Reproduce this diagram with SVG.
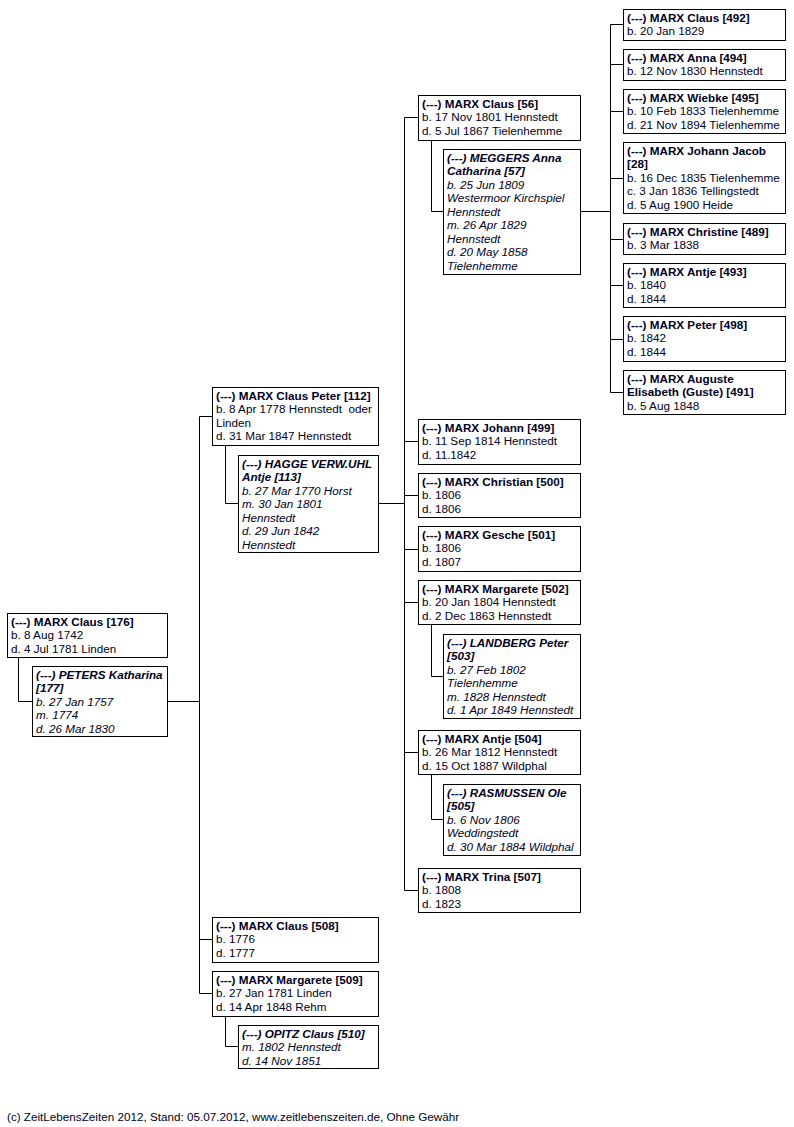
<svg xmlns="http://www.w3.org/2000/svg" width="794" height="1127" viewBox="0 0 794 1127">
<style>
rect.b{fill:#fff;stroke:#000;stroke-width:1}
text{font-family:"Liberation Sans",Arial,sans-serif;font-size:11.7px;fill:#000022}
.n{font-weight:bold}
.s{font-style:italic}
.sn{font-style:italic;font-weight:bold}
#connectors path{fill:none;stroke:#000;stroke-width:1}
</style>
<rect width="794" height="1127" fill="#fff"/>
<g id="connectors">
<path d="M18.5 657.5V701.5H32.5M167.5 701.5H199.5M199.5 416.5V993.5M199.5 416.5H212.5M199.5 939.5H212.5M199.5 993.5H212.5"/>
<path d="M225.5 445.5V503.5H238.5M378.5 503.5H404.5M404.5 117.5V890.5M225.5 1016.5V1046.5H238.5"/>
<path d="M404.5 117.5H418.5M404.5 441.5H418.5M404.5 495.5H418.5M404.5 549.5H418.5M404.5 602.5H418.5M404.5 752.5H418.5M404.5 890.5H418.5"/>
<path d="M431.5 140.5V211.5H443.5M580.5 211.5H610.5M431.5 624.5V676.5H443.5M431.5 774.5V819.5H443.5"/>
<path d="M610.5 24.5V392.5M610.5 24.5H623.5M610.5 64.5H623.5M610.5 111.5H623.5M610.5 178.5H623.5M610.5 239.5H623.5M610.5 285.5H623.5M610.5 339.5H623.5M610.5 392.5H623.5"/>
</g>
<g id="p176"><rect class="b" x="7.5" y="613.5" width="160" height="44"/>
<text x="11" y="626"><tspan class="n">(---) MARX Claus [176]</tspan><tspan x="11" dy="13.45">b. 8 Aug 1742</tspan><tspan x="11" dy="13.45">d. 4 Jul 1781 Linden</tspan></text></g>
<g id="p177"><rect class="b" x="32.5" y="666.5" width="135" height="70"/>
<text x="36" y="679" class="s"><tspan class="sn">(---) PETERS Katharina</tspan><tspan x="36" dy="13.45" class="sn">[177]</tspan><tspan x="36" dy="13.45">b. 27 Jan 1757</tspan><tspan x="36" dy="13.45">m. 1774</tspan><tspan x="36" dy="13.45">d. 26 Mar 1830</tspan></text></g>
<g id="p112"><rect class="b" x="212.5" y="387.5" width="166" height="58"/>
<text x="216" y="400"><tspan class="n">(---) MARX Claus Peter [112]</tspan><tspan x="216" dy="13.45">b. 8 Apr 1778 Hennstedt &#160;oder</tspan><tspan x="216" dy="13.45">Linden</tspan><tspan x="216" dy="13.45">d. 31 Mar 1847 Hennstedt</tspan></text></g>
<g id="p113"><rect class="b" x="238.5" y="455.5" width="140" height="97"/>
<text x="242" y="468" class="s"><tspan class="sn">(---) HAGGE VERW.UHL</tspan><tspan x="242" dy="13.45" class="sn">Antje [113]</tspan><tspan x="242" dy="13.45">b. 27 Mar 1770 Horst</tspan><tspan x="242" dy="13.45">m. 30 Jan 1801</tspan><tspan x="242" dy="13.45">Hennstedt</tspan><tspan x="242" dy="13.45">d. 29 Jun 1842</tspan><tspan x="242" dy="13.45">Hennstedt</tspan></text></g>
<g id="p508"><rect class="b" x="212.5" y="917.5" width="166" height="45"/>
<text x="216" y="930"><tspan class="n">(---) MARX Claus [508]</tspan><tspan x="216" dy="13.45">b. 1776</tspan><tspan x="216" dy="13.45">d. 1777</tspan></text></g>
<g id="p509"><rect class="b" x="212.5" y="971.5" width="166" height="45"/>
<text x="216" y="984"><tspan class="n">(---) MARX Margarete [509]</tspan><tspan x="216" dy="13.45">b. 27 Jan 1781 Linden</tspan><tspan x="216" dy="13.45">d. 14 Apr 1848 Rehm</tspan></text></g>
<g id="p510"><rect class="b" x="238.5" y="1025.5" width="140" height="43"/>
<text x="242" y="1038" class="s"><tspan class="sn">(---) OPITZ Claus [510]</tspan><tspan x="242" dy="13.45">m. 1802 Hennstedt</tspan><tspan x="242" dy="13.45">d. 14 Nov 1851</tspan></text></g>
<g id="p56"><rect class="b" x="418.5" y="95.5" width="162" height="45"/>
<text x="422" y="108"><tspan class="n">(---) MARX Claus [56]</tspan><tspan x="422" dy="13.45">b. 17 Nov 1801 Hennstedt</tspan><tspan x="422" dy="13.45">d. 5 Jul 1867 Tielenhemme</tspan></text></g>
<g id="p57"><rect class="b" x="443.5" y="149.5" width="137" height="125"/>
<text x="447" y="162" class="s"><tspan class="sn">(---) MEGGERS Anna</tspan><tspan x="447" dy="13.45" class="sn">Catharina [57]</tspan><tspan x="447" dy="13.45">b. 25 Jun 1809</tspan><tspan x="447" dy="13.45">Westermoor Kirchspiel</tspan><tspan x="447" dy="13.45">Hennstedt</tspan><tspan x="447" dy="13.45">m. 26 Apr 1829</tspan><tspan x="447" dy="13.45">Hennstedt</tspan><tspan x="447" dy="13.45">d. 20 May 1858</tspan><tspan x="447" dy="13.45">Tielenhemme</tspan></text></g>
<g id="p499"><rect class="b" x="418.5" y="419.5" width="162" height="45"/>
<text x="422" y="432"><tspan class="n">(---) MARX Johann [499]</tspan><tspan x="422" dy="13.45">b. 11 Sep 1814 Hennstedt</tspan><tspan x="422" dy="13.45">d. 11.1842</tspan></text></g>
<g id="p500"><rect class="b" x="418.5" y="473.5" width="162" height="44"/>
<text x="422" y="486"><tspan class="n">(---) MARX Christian [500]</tspan><tspan x="422" dy="13.45">b. 1806</tspan><tspan x="422" dy="13.45">d. 1806</tspan></text></g>
<g id="p501"><rect class="b" x="418.5" y="526.5" width="162" height="45"/>
<text x="422" y="539"><tspan class="n">(---) MARX Gesche [501]</tspan><tspan x="422" dy="13.45">b. 1806</tspan><tspan x="422" dy="13.45">d. 1807</tspan></text></g>
<g id="p502"><rect class="b" x="418.5" y="580.5" width="162" height="44"/>
<text x="422" y="593"><tspan class="n">(---) MARX Margarete [502]</tspan><tspan x="422" dy="13.45">b. 20 Jan 1804 Hennstedt</tspan><tspan x="422" dy="13.45">d. 2 Dec 1863 Hennstedt</tspan></text></g>
<g id="p503"><rect class="b" x="443.5" y="634.5" width="137" height="84"/>
<text x="447" y="647" class="s"><tspan class="sn">(---) LANDBERG Peter</tspan><tspan x="447" dy="13.45" class="sn">[503]</tspan><tspan x="447" dy="13.45">b. 27 Feb 1802</tspan><tspan x="447" dy="13.45">Tielenhemme</tspan><tspan x="447" dy="13.45">m. 1828 Hennstedt</tspan><tspan x="447" dy="13.45">d. 1 Apr 1849 Hennstedt</tspan></text></g>
<g id="p504"><rect class="b" x="418.5" y="730.5" width="162" height="44"/>
<text x="422" y="743"><tspan class="n">(---) MARX Antje [504]</tspan><tspan x="422" dy="13.45">b. 26 Mar 1812 Hennstedt</tspan><tspan x="422" dy="13.45">d. 15 Oct 1887 Wildphal</tspan></text></g>
<g id="p505"><rect class="b" x="443.5" y="784.5" width="137" height="71"/>
<text x="447" y="797" class="s"><tspan class="sn">(---) RASMUSSEN Ole</tspan><tspan x="447" dy="13.45" class="sn">[505]</tspan><tspan x="447" dy="13.45">b. 6 Nov 1806</tspan><tspan x="447" dy="13.45">Weddingstedt</tspan><tspan x="447" dy="13.45">d. 30 Mar 1884 Wildphal</tspan></text></g>
<g id="p507"><rect class="b" x="418.5" y="868.5" width="162" height="44"/>
<text x="422" y="881"><tspan class="n">(---) MARX Trina [507]</tspan><tspan x="422" dy="13.45">b. 1808</tspan><tspan x="422" dy="13.45">d. 1823</tspan></text></g>
<g id="p492"><rect class="b" x="623.5" y="9.5" width="162" height="31"/>
<text x="627" y="22"><tspan class="n">(---) MARX Claus [492]</tspan><tspan x="627" dy="13.45">b. 20 Jan 1829</tspan></text></g>
<g id="p494"><rect class="b" x="623.5" y="49.5" width="162" height="31"/>
<text x="627" y="62"><tspan class="n">(---) MARX Anna [494]</tspan><tspan x="627" dy="13.45">b. 12 Nov 1830 Hennstedt</tspan></text></g>
<g id="p495"><rect class="b" x="623.5" y="89.5" width="162" height="44"/>
<text x="627" y="102"><tspan class="n">(---) MARX Wiebke [495]</tspan><tspan x="627" dy="13.45">b. 10 Feb 1833 Tielenhemme</tspan><tspan x="627" dy="13.45">d. 21 Nov 1894 Tielenhemme</tspan></text></g>
<g id="p28"><rect class="b" x="623.5" y="142.5" width="162" height="71"/>
<text x="627" y="155"><tspan class="n">(---) MARX Johann Jacob</tspan><tspan x="627" dy="13.45" class="n">[28]</tspan><tspan x="627" dy="13.45">b. 16 Dec 1835 Tielenhemme</tspan><tspan x="627" dy="13.45">c. 3 Jan 1836 Tellingstedt</tspan><tspan x="627" dy="13.45">d. 5 Aug 1900 Heide</tspan></text></g>
<g id="p489"><rect class="b" x="623.5" y="223.5" width="162" height="31"/>
<text x="627" y="236"><tspan class="n">(---) MARX Christine [489]</tspan><tspan x="627" dy="13.45">b. 3 Mar 1838</tspan></text></g>
<g id="p493"><rect class="b" x="623.5" y="263.5" width="162" height="44"/>
<text x="627" y="276"><tspan class="n">(---) MARX Antje [493]</tspan><tspan x="627" dy="13.45">b. 1840</tspan><tspan x="627" dy="13.45">d. 1844</tspan></text></g>
<g id="p498"><rect class="b" x="623.5" y="316.5" width="162" height="45"/>
<text x="627" y="329"><tspan class="n">(---) MARX Peter [498]</tspan><tspan x="627" dy="13.45">b. 1842</tspan><tspan x="627" dy="13.45">d. 1844</tspan></text></g>
<g id="p491"><rect class="b" x="623.5" y="370.5" width="162" height="44"/>
<text x="627" y="383"><tspan class="n">(---) MARX Auguste</tspan><tspan x="627" dy="13.45" class="n">Elisabeth (Guste) [491]</tspan><tspan x="627" dy="13.45">b. 5 Aug 1848</tspan></text></g>
<text id="footer" x="7" y="1121">(c) ZeitLebensZeiten 2012, Stand: 05.07.2012, www.zeitlebenszeiten.de, Ohne Gewähr</text>
</svg>
